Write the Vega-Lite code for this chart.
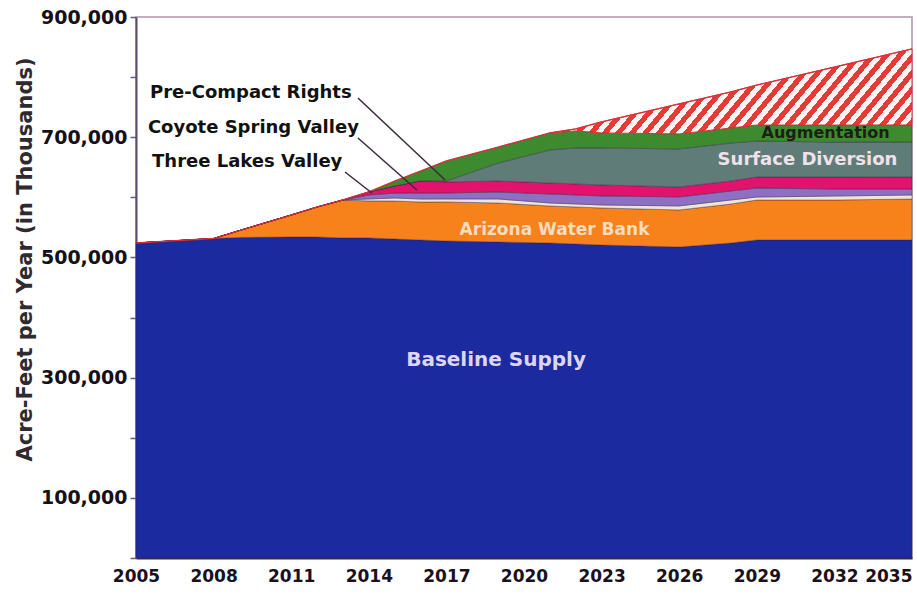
{
  "$schema": "https://vega.github.io/schema/vega-lite/v6.json",
  "width": 776,
  "height": 541,
  "autosize": {"type": "none"},
  "padding": {"left": 136, "top": 17, "right": 5, "bottom": 43},
  "background": "white",
  "config": {
    "view": {"stroke": "#b094aa", "strokeWidth": 1.5},
    "font": "DejaVu Sans",
    "axisX": {"grid": false, "ticks": false, "domainColor": "#3a2a4a", "domainWidth": 2, "labelFont": "DejaVu Sans", "labelFontWeight": "bold", "labelFontSize": 17, "labelColor": "#1a1020", "labelPadding": 10, "labelOverlap": false, "labelFlush": false},
    "axisY": {"grid": false, "tickSize": 6, "tickColor": "#6a5a78", "tickWidth": 1.5, "domainColor": "#5a4a6a", "domainWidth": 2, "labelFont": "DejaVu Sans", "labelFontSize": 19, "labelFontWeight": "bold", "labelColor": "#151015", "labelPadding": 3, "labelOverlap": false, "titleFont": "DejaVu Sans", "titleFontSize": 21, "titleFontWeight": "bold", "titleColor": "#2e2a30"}
  },
  "datasets": {
    "stackOrder": [
      {"source": "Baseline Supply", "rank": 1},
      {"source": "Arizona Water Bank", "rank": 2},
      {"source": "Three Lakes Valley", "rank": 3},
      {"source": "Coyote Spring Valley", "rank": 4},
      {"source": "Pre-Compact Rights", "rank": 5},
      {"source": "Surface Diversion", "rank": 6},
      {"source": "Augmentation", "rank": 7},
      {"source": "Shortfall", "rank": 8}
    ],
    "supply": [
      {"year": 2005, "source": "Baseline Supply", "value": 524000},
      {"year": 2005, "source": "Arizona Water Bank", "value": 0},
      {"year": 2005, "source": "Three Lakes Valley", "value": 0},
      {"year": 2005, "source": "Coyote Spring Valley", "value": 0},
      {"year": 2005, "source": "Pre-Compact Rights", "value": 0},
      {"year": 2005, "source": "Surface Diversion", "value": 0},
      {"year": 2005, "source": "Augmentation", "value": 0},
      {"year": 2005, "source": "Shortfall", "value": 0},
      {"year": 2008, "source": "Baseline Supply", "value": 531500},
      {"year": 2008, "source": "Arizona Water Bank", "value": 0},
      {"year": 2008, "source": "Three Lakes Valley", "value": 0},
      {"year": 2008, "source": "Coyote Spring Valley", "value": 0},
      {"year": 2008, "source": "Pre-Compact Rights", "value": 0},
      {"year": 2008, "source": "Surface Diversion", "value": 0},
      {"year": 2008, "source": "Augmentation", "value": 0},
      {"year": 2008, "source": "Shortfall", "value": 0},
      {"year": 2009, "source": "Baseline Supply", "value": 533200},
      {"year": 2009, "source": "Arizona Water Bank", "value": 11600},
      {"year": 2009, "source": "Three Lakes Valley", "value": 0},
      {"year": 2009, "source": "Coyote Spring Valley", "value": 0},
      {"year": 2009, "source": "Pre-Compact Rights", "value": 0},
      {"year": 2009, "source": "Surface Diversion", "value": 0},
      {"year": 2009, "source": "Augmentation", "value": 0},
      {"year": 2009, "source": "Shortfall", "value": 0},
      {"year": 2011, "source": "Baseline Supply", "value": 534000},
      {"year": 2011, "source": "Arizona Water Bank", "value": 36600},
      {"year": 2011, "source": "Three Lakes Valley", "value": 0},
      {"year": 2011, "source": "Coyote Spring Valley", "value": 0},
      {"year": 2011, "source": "Pre-Compact Rights", "value": 0},
      {"year": 2011, "source": "Surface Diversion", "value": 0},
      {"year": 2011, "source": "Augmentation", "value": 0},
      {"year": 2011, "source": "Shortfall", "value": 0},
      {"year": 2012, "source": "Baseline Supply", "value": 534000},
      {"year": 2012, "source": "Arizona Water Bank", "value": 49900},
      {"year": 2012, "source": "Three Lakes Valley", "value": 0},
      {"year": 2012, "source": "Coyote Spring Valley", "value": 0},
      {"year": 2012, "source": "Pre-Compact Rights", "value": 0},
      {"year": 2012, "source": "Surface Diversion", "value": 0},
      {"year": 2012, "source": "Augmentation", "value": 0},
      {"year": 2012, "source": "Shortfall", "value": 0},
      {"year": 2013, "source": "Baseline Supply", "value": 532400},
      {"year": 2013, "source": "Arizona Water Bank", "value": 63200},
      {"year": 2013, "source": "Three Lakes Valley", "value": 0},
      {"year": 2013, "source": "Coyote Spring Valley", "value": 0},
      {"year": 2013, "source": "Pre-Compact Rights", "value": 0},
      {"year": 2013, "source": "Surface Diversion", "value": 0},
      {"year": 2013, "source": "Augmentation", "value": 0},
      {"year": 2013, "source": "Shortfall", "value": 0},
      {"year": 2014, "source": "Baseline Supply", "value": 532400},
      {"year": 2014, "source": "Arizona Water Bank", "value": 61600},
      {"year": 2014, "source": "Three Lakes Valley", "value": 3300},
      {"year": 2014, "source": "Coyote Spring Valley", "value": 6700},
      {"year": 2014, "source": "Pre-Compact Rights", "value": 5000},
      {"year": 2014, "source": "Surface Diversion", "value": 0},
      {"year": 2014, "source": "Augmentation", "value": 0},
      {"year": 2014, "source": "Shortfall", "value": 0},
      {"year": 2015, "source": "Baseline Supply", "value": 530700},
      {"year": 2015, "source": "Arizona Water Bank", "value": 63200},
      {"year": 2015, "source": "Three Lakes Valley", "value": 5000},
      {"year": 2015, "source": "Coyote Spring Valley", "value": 8300},
      {"year": 2015, "source": "Pre-Compact Rights", "value": 11600},
      {"year": 2015, "source": "Surface Diversion", "value": 0},
      {"year": 2015, "source": "Augmentation", "value": 8300},
      {"year": 2015, "source": "Shortfall", "value": 0},
      {"year": 2016, "source": "Baseline Supply", "value": 529000},
      {"year": 2016, "source": "Arizona Water Bank", "value": 63200},
      {"year": 2016, "source": "Three Lakes Valley", "value": 5000},
      {"year": 2016, "source": "Coyote Spring Valley", "value": 10000},
      {"year": 2016, "source": "Pre-Compact Rights", "value": 20000},
      {"year": 2016, "source": "Surface Diversion", "value": 0},
      {"year": 2016, "source": "Augmentation", "value": 16600},
      {"year": 2016, "source": "Shortfall", "value": 0},
      {"year": 2017, "source": "Baseline Supply", "value": 527400},
      {"year": 2017, "source": "Arizona Water Bank", "value": 64900},
      {"year": 2017, "source": "Three Lakes Valley", "value": 5000},
      {"year": 2017, "source": "Coyote Spring Valley", "value": 10000},
      {"year": 2017, "source": "Pre-Compact Rights", "value": 18300},
      {"year": 2017, "source": "Surface Diversion", "value": 1700},
      {"year": 2017, "source": "Augmentation", "value": 33300},
      {"year": 2017, "source": "Shortfall", "value": 0},
      {"year": 2019, "source": "Baseline Supply", "value": 525700},
      {"year": 2019, "source": "Arizona Water Bank", "value": 64900},
      {"year": 2019, "source": "Three Lakes Valley", "value": 6700},
      {"year": 2019, "source": "Coyote Spring Valley", "value": 11600},
      {"year": 2019, "source": "Pre-Compact Rights", "value": 18300},
      {"year": 2019, "source": "Surface Diversion", "value": 29900},
      {"year": 2019, "source": "Augmentation", "value": 26600},
      {"year": 2019, "source": "Shortfall", "value": 0},
      {"year": 2021, "source": "Baseline Supply", "value": 524000},
      {"year": 2021, "source": "Arizona Water Bank", "value": 61600},
      {"year": 2021, "source": "Three Lakes Valley", "value": 5000},
      {"year": 2021, "source": "Coyote Spring Valley", "value": 15000},
      {"year": 2021, "source": "Pre-Compact Rights", "value": 18300},
      {"year": 2021, "source": "Surface Diversion", "value": 54900},
      {"year": 2021, "source": "Augmentation", "value": 28300},
      {"year": 2021, "source": "Shortfall", "value": 0},
      {"year": 2022, "source": "Baseline Supply", "value": 522400},
      {"year": 2022, "source": "Arizona Water Bank", "value": 61600},
      {"year": 2022, "source": "Three Lakes Valley", "value": 5000},
      {"year": 2022, "source": "Coyote Spring Valley", "value": 15000},
      {"year": 2022, "source": "Pre-Compact Rights", "value": 18300},
      {"year": 2022, "source": "Surface Diversion", "value": 59900},
      {"year": 2022, "source": "Augmentation", "value": 28300},
      {"year": 2022, "source": "Shortfall", "value": 3300},
      {"year": 2023, "source": "Baseline Supply", "value": 520700},
      {"year": 2023, "source": "Arizona Water Bank", "value": 61600},
      {"year": 2023, "source": "Three Lakes Valley", "value": 5000},
      {"year": 2023, "source": "Coyote Spring Valley", "value": 15000},
      {"year": 2023, "source": "Pre-Compact Rights", "value": 18300},
      {"year": 2023, "source": "Surface Diversion", "value": 61600},
      {"year": 2023, "source": "Augmentation", "value": 25000},
      {"year": 2023, "source": "Shortfall", "value": 18300},
      {"year": 2026, "source": "Baseline Supply", "value": 517400},
      {"year": 2026, "source": "Arizona Water Bank", "value": 61600},
      {"year": 2026, "source": "Three Lakes Valley", "value": 6700},
      {"year": 2026, "source": "Coyote Spring Valley", "value": 15000},
      {"year": 2026, "source": "Pre-Compact Rights", "value": 16600},
      {"year": 2026, "source": "Surface Diversion", "value": 63200},
      {"year": 2026, "source": "Augmentation", "value": 25000},
      {"year": 2026, "source": "Shortfall", "value": 49900},
      {"year": 2028, "source": "Baseline Supply", "value": 524000},
      {"year": 2028, "source": "Arizona Water Bank", "value": 64900},
      {"year": 2028, "source": "Three Lakes Valley", "value": 6700},
      {"year": 2028, "source": "Coyote Spring Valley", "value": 15000},
      {"year": 2028, "source": "Pre-Compact Rights", "value": 16600},
      {"year": 2028, "source": "Surface Diversion", "value": 63200},
      {"year": 2028, "source": "Augmentation", "value": 25000},
      {"year": 2028, "source": "Shortfall", "value": 59900},
      {"year": 2029, "source": "Baseline Supply", "value": 529000},
      {"year": 2029, "source": "Arizona Water Bank", "value": 66500},
      {"year": 2029, "source": "Three Lakes Valley", "value": 5000},
      {"year": 2029, "source": "Coyote Spring Valley", "value": 15000},
      {"year": 2029, "source": "Pre-Compact Rights", "value": 18300},
      {"year": 2029, "source": "Surface Diversion", "value": 59900},
      {"year": 2029, "source": "Augmentation", "value": 26600},
      {"year": 2029, "source": "Shortfall", "value": 66500},
      {"year": 2032, "source": "Baseline Supply", "value": 529000},
      {"year": 2032, "source": "Arizona Water Bank", "value": 66500},
      {"year": 2032, "source": "Three Lakes Valley", "value": 6700},
      {"year": 2032, "source": "Coyote Spring Valley", "value": 11600},
      {"year": 2032, "source": "Pre-Compact Rights", "value": 20000},
      {"year": 2032, "source": "Surface Diversion", "value": 58200},
      {"year": 2032, "source": "Augmentation", "value": 28300},
      {"year": 2032, "source": "Shortfall", "value": 96500},
      {"year": 2035, "source": "Baseline Supply", "value": 529000},
      {"year": 2035, "source": "Arizona Water Bank", "value": 68200},
      {"year": 2035, "source": "Three Lakes Valley", "value": 6700},
      {"year": 2035, "source": "Coyote Spring Valley", "value": 10000},
      {"year": 2035, "source": "Pre-Compact Rights", "value": 20000},
      {"year": 2035, "source": "Surface Diversion", "value": 58200},
      {"year": 2035, "source": "Augmentation", "value": 28300},
      {"year": 2035, "source": "Shortfall", "value": 126400}
    ]
  },
  "layer": [
    {
      "data": {"name": "supply"},
      "transform": [
        {"filter": "datum.source != 'Shortfall'"},
        {"lookup": "source", "from": {"data": {"name": "stackOrder"}, "key": "source", "fields": ["rank"]}}
      ],
      "mark": {"type": "area", "stroke": "#2b1b3b", "strokeWidth": 0.7, "strokeOpacity": 0.55},
      "encoding": {
        "x": {
          "field": "year", "type": "quantitative",
          "scale": {"domain": [2005, 2035], "nice": false, "zero": false},
          "axis": {
            "values": [2005, 2008, 2011, 2014, 2017, 2020, 2023, 2026, 2029, 2032, 2035],
            "format": "d", "title": null,
            "labelAlign": {"condition": {"test": "datum.value == 2035", "value": "right"}, "value": "center"}
          }
        },
        "y": {
          "field": "value", "type": "quantitative", "stack": "zero",
          "scale": {"domain": [0, 900000], "nice": false},
          "axis": {
            "values": [0, 100000, 200000, 300000, 400000, 500000, 600000, 700000, 800000, 900000],
            "format": ",d",
            "labelExpr": "datum.value % 200000 == 100000 ? datum.label : ''",
            "title": "Acre-Feet per Year (in Thousands)",
            "titleX": -111, "titleY": 242, "titleAngle": -90,
            "titleAlign": "center", "titleBaseline": "middle"
          }
        },
        "order": {"field": "rank", "type": "quantitative"},
        "color": {
          "field": "source", "type": "nominal",
          "scale": {
            "domain": ["Baseline Supply", "Arizona Water Bank", "Three Lakes Valley", "Coyote Spring Valley", "Pre-Compact Rights", "Surface Diversion", "Augmentation"],
            "range": ["#1c2aa0", "#f7821c", "#efe4d8", "#8d70c4", "#e2136c", "#5f7c78", "#3d8b2e"]
          },
          "legend": null
        }
      }
    },
    {
      "data": {"name": "supply"},
      "transform": [
        {"joinaggregate": [{"op": "sum", "field": "value", "as": "top"}], "groupby": ["year"]},
        {"filter": "datum.source != 'Shortfall'"},
        {"aggregate": [{"op": "sum", "field": "value", "as": "base"}, {"op": "max", "field": "top", "as": "top"}], "groupby": ["year"]},
        {"filter": "datum.year >= 2021"}
      ],
      "mark": {
        "type": "area", "stroke": "#d8303a", "strokeWidth": 1,
        "fill": {
          "gradient": "linear", "x1": 0, "y1": 0, "x2": 1.2, "y2": 0.235,
          "stops": [
            {"offset": 0, "color": "#e33b36"}, {"offset": 0.015, "color": "#e33b36"},
            {"offset": 0.015, "color": "#fdf3f3"}, {"offset": 0.03, "color": "#fdf3f3"},
            {"offset": 0.03, "color": "#e33b36"}, {"offset": 0.045, "color": "#e33b36"},
            {"offset": 0.045, "color": "#fdf3f3"}, {"offset": 0.06, "color": "#fdf3f3"},
            {"offset": 0.06, "color": "#e33b36"}, {"offset": 0.075, "color": "#e33b36"},
            {"offset": 0.075, "color": "#fdf3f3"}, {"offset": 0.09, "color": "#fdf3f3"},
            {"offset": 0.09, "color": "#e33b36"}, {"offset": 0.105, "color": "#e33b36"},
            {"offset": 0.105, "color": "#fdf3f3"}, {"offset": 0.12, "color": "#fdf3f3"},
            {"offset": 0.12, "color": "#e33b36"}, {"offset": 0.135, "color": "#e33b36"},
            {"offset": 0.135, "color": "#fdf3f3"}, {"offset": 0.15, "color": "#fdf3f3"},
            {"offset": 0.15, "color": "#e33b36"}, {"offset": 0.165, "color": "#e33b36"},
            {"offset": 0.165, "color": "#fdf3f3"}, {"offset": 0.18, "color": "#fdf3f3"},
            {"offset": 0.18, "color": "#e33b36"}, {"offset": 0.195, "color": "#e33b36"},
            {"offset": 0.195, "color": "#fdf3f3"}, {"offset": 0.21, "color": "#fdf3f3"},
            {"offset": 0.21, "color": "#e33b36"}, {"offset": 0.225, "color": "#e33b36"},
            {"offset": 0.225, "color": "#fdf3f3"}, {"offset": 0.24, "color": "#fdf3f3"},
            {"offset": 0.24, "color": "#e33b36"}, {"offset": 0.255, "color": "#e33b36"},
            {"offset": 0.255, "color": "#fdf3f3"}, {"offset": 0.27, "color": "#fdf3f3"},
            {"offset": 0.27, "color": "#e33b36"}, {"offset": 0.285, "color": "#e33b36"},
            {"offset": 0.285, "color": "#fdf3f3"}, {"offset": 0.3, "color": "#fdf3f3"},
            {"offset": 0.3, "color": "#e33b36"}, {"offset": 0.315, "color": "#e33b36"},
            {"offset": 0.315, "color": "#fdf3f3"}, {"offset": 0.33, "color": "#fdf3f3"},
            {"offset": 0.33, "color": "#e33b36"}, {"offset": 0.345, "color": "#e33b36"},
            {"offset": 0.345, "color": "#fdf3f3"}, {"offset": 0.36, "color": "#fdf3f3"},
            {"offset": 0.36, "color": "#e33b36"}, {"offset": 0.375, "color": "#e33b36"},
            {"offset": 0.375, "color": "#fdf3f3"}, {"offset": 0.39, "color": "#fdf3f3"},
            {"offset": 0.39, "color": "#e33b36"}, {"offset": 0.405, "color": "#e33b36"},
            {"offset": 0.405, "color": "#fdf3f3"}, {"offset": 0.42, "color": "#fdf3f3"},
            {"offset": 0.42, "color": "#e33b36"}, {"offset": 0.435, "color": "#e33b36"},
            {"offset": 0.435, "color": "#fdf3f3"}, {"offset": 0.45, "color": "#fdf3f3"},
            {"offset": 0.45, "color": "#e33b36"}, {"offset": 0.465, "color": "#e33b36"},
            {"offset": 0.465, "color": "#fdf3f3"}, {"offset": 0.48, "color": "#fdf3f3"},
            {"offset": 0.48, "color": "#e33b36"}, {"offset": 0.495, "color": "#e33b36"},
            {"offset": 0.495, "color": "#fdf3f3"}, {"offset": 0.51, "color": "#fdf3f3"},
            {"offset": 0.51, "color": "#e33b36"}, {"offset": 0.525, "color": "#e33b36"},
            {"offset": 0.525, "color": "#fdf3f3"}, {"offset": 0.54, "color": "#fdf3f3"},
            {"offset": 0.54, "color": "#e33b36"}, {"offset": 0.555, "color": "#e33b36"},
            {"offset": 0.555, "color": "#fdf3f3"}, {"offset": 0.57, "color": "#fdf3f3"},
            {"offset": 0.57, "color": "#e33b36"}, {"offset": 0.585, "color": "#e33b36"},
            {"offset": 0.585, "color": "#fdf3f3"}, {"offset": 0.6, "color": "#fdf3f3"},
            {"offset": 0.6, "color": "#e33b36"}, {"offset": 0.615, "color": "#e33b36"},
            {"offset": 0.615, "color": "#fdf3f3"}, {"offset": 0.63, "color": "#fdf3f3"},
            {"offset": 0.63, "color": "#e33b36"}, {"offset": 0.645, "color": "#e33b36"},
            {"offset": 0.645, "color": "#fdf3f3"}, {"offset": 0.66, "color": "#fdf3f3"},
            {"offset": 0.66, "color": "#e33b36"}, {"offset": 0.675, "color": "#e33b36"},
            {"offset": 0.675, "color": "#fdf3f3"}, {"offset": 0.69, "color": "#fdf3f3"},
            {"offset": 0.69, "color": "#e33b36"}, {"offset": 0.705, "color": "#e33b36"},
            {"offset": 0.705, "color": "#fdf3f3"}, {"offset": 0.72, "color": "#fdf3f3"},
            {"offset": 0.72, "color": "#e33b36"}, {"offset": 0.735, "color": "#e33b36"},
            {"offset": 0.735, "color": "#fdf3f3"}, {"offset": 0.75, "color": "#fdf3f3"},
            {"offset": 0.75, "color": "#e33b36"}, {"offset": 0.765, "color": "#e33b36"},
            {"offset": 0.765, "color": "#fdf3f3"}, {"offset": 0.78, "color": "#fdf3f3"},
            {"offset": 0.78, "color": "#e33b36"}, {"offset": 0.795, "color": "#e33b36"},
            {"offset": 0.795, "color": "#fdf3f3"}, {"offset": 0.81, "color": "#fdf3f3"},
            {"offset": 0.81, "color": "#e33b36"}, {"offset": 0.825, "color": "#e33b36"},
            {"offset": 0.825, "color": "#fdf3f3"}, {"offset": 0.84, "color": "#fdf3f3"},
            {"offset": 0.84, "color": "#e33b36"}, {"offset": 0.855, "color": "#e33b36"},
            {"offset": 0.855, "color": "#fdf3f3"}, {"offset": 0.87, "color": "#fdf3f3"},
            {"offset": 0.87, "color": "#e33b36"}, {"offset": 0.885, "color": "#e33b36"},
            {"offset": 0.885, "color": "#fdf3f3"}, {"offset": 0.9, "color": "#fdf3f3"},
            {"offset": 0.9, "color": "#e33b36"}, {"offset": 0.915, "color": "#e33b36"},
            {"offset": 0.915, "color": "#fdf3f3"}, {"offset": 0.93, "color": "#fdf3f3"},
            {"offset": 0.93, "color": "#e33b36"}, {"offset": 0.945, "color": "#e33b36"},
            {"offset": 0.945, "color": "#fdf3f3"}, {"offset": 0.96, "color": "#fdf3f3"},
            {"offset": 0.96, "color": "#e33b36"}, {"offset": 0.975, "color": "#e33b36"},
            {"offset": 0.975, "color": "#fdf3f3"}, {"offset": 0.99, "color": "#fdf3f3"},
            {"offset": 0.99, "color": "#e33b36"}, {"offset": 1, "color": "#e33b36"}
          ]
        }
      },
      "encoding": {
        "x": {"field": "year", "type": "quantitative"},
        "y": {"field": "top", "type": "quantitative"},
        "y2": {"field": "base"}
      }
    },
    {
      "data": {"name": "supply"},
      "mark": {"type": "line", "color": "#d8303a", "strokeWidth": 1.3},
      "encoding": {
        "x": {"field": "year", "type": "quantitative"},
        "y": {"aggregate": "sum", "field": "value", "type": "quantitative"}
      }
    },
    {
      "data": {"values": [
        {"label": "Pre-Compact Rights", "year": 2013.58, "value": 765300, "year2": 2016.95, "value2": 628800},
        {"label": "Coyote Spring Valley", "year": 2013.58, "value": 698700, "year2": 2015.86, "value2": 612200},
        {"label": "Three Lakes Valley", "year": 2013.08, "value": 642100, "year2": 2014.12, "value2": 607200}
      ]},
      "mark": {"type": "rule", "color": "#3a2a3c", "strokeWidth": 1.5},
      "encoding": {
        "x": {"field": "year", "type": "quantitative"},
        "y": {"field": "value", "type": "quantitative"},
        "x2": {"field": "year2"},
        "y2": {"field": "value2"}
      }
    },
    {
      "data": {"values": [
        {"label": "Pre-Compact Rights", "year": 2005.54, "value": 773600},
        {"label": "Coyote Spring Valley", "year": 2005.46, "value": 715300},
        {"label": "Three Lakes Valley", "year": 2005.62, "value": 658800}
      ]},
      "mark": {"type": "text", "align": "left", "baseline": "middle", "font": "DejaVu Sans", "fontWeight": "bold", "fontSize": 18, "color": "#111111"},
      "encoding": {
        "x": {"field": "year", "type": "quantitative"},
        "y": {"field": "value", "type": "quantitative"},
        "text": {"field": "label"}
      }
    },
    {
      "data": {"values": [{"label": "Baseline Supply", "year": 2018.92, "value": 329400}]},
      "mark": {"type": "text", "align": "center", "baseline": "middle", "font": "DejaVu Sans", "fontWeight": "bold", "fontSize": 20, "color": "#dcd5f3"},
      "encoding": {
        "x": {"field": "year", "type": "quantitative"},
        "y": {"field": "value", "type": "quantitative"},
        "text": {"field": "label"}
      }
    },
    {
      "data": {"values": [{"label": "Arizona Water Bank", "year": 2021.18, "value": 545700}]},
      "mark": {"type": "text", "align": "center", "baseline": "middle", "font": "DejaVu Sans", "fontWeight": "bold", "fontSize": 17, "color": "#f7dcc2"},
      "encoding": {
        "x": {"field": "year", "type": "quantitative"},
        "y": {"field": "value", "type": "quantitative"},
        "text": {"field": "label"}
      }
    },
    {
      "data": {"values": [{"label": "Surface Diversion", "year": 2030.96, "value": 662100}]},
      "mark": {"type": "text", "align": "center", "baseline": "middle", "font": "DejaVu Sans", "fontWeight": "bold", "fontSize": 18, "color": "#efe2ea"},
      "encoding": {
        "x": {"field": "year", "type": "quantitative"},
        "y": {"field": "value", "type": "quantitative"},
        "text": {"field": "label"}
      }
    },
    {
      "data": {"values": [{"label": "Augmentation", "year": 2031.66, "value": 707000}]},
      "mark": {"type": "text", "align": "center", "baseline": "middle", "font": "DejaVu Sans", "fontWeight": "bold", "fontSize": 16, "color": "#1b1f18"},
      "encoding": {
        "x": {"field": "year", "type": "quantitative"},
        "y": {"field": "value", "type": "quantitative"},
        "text": {"field": "label"}
      }
    }
  ]
}
